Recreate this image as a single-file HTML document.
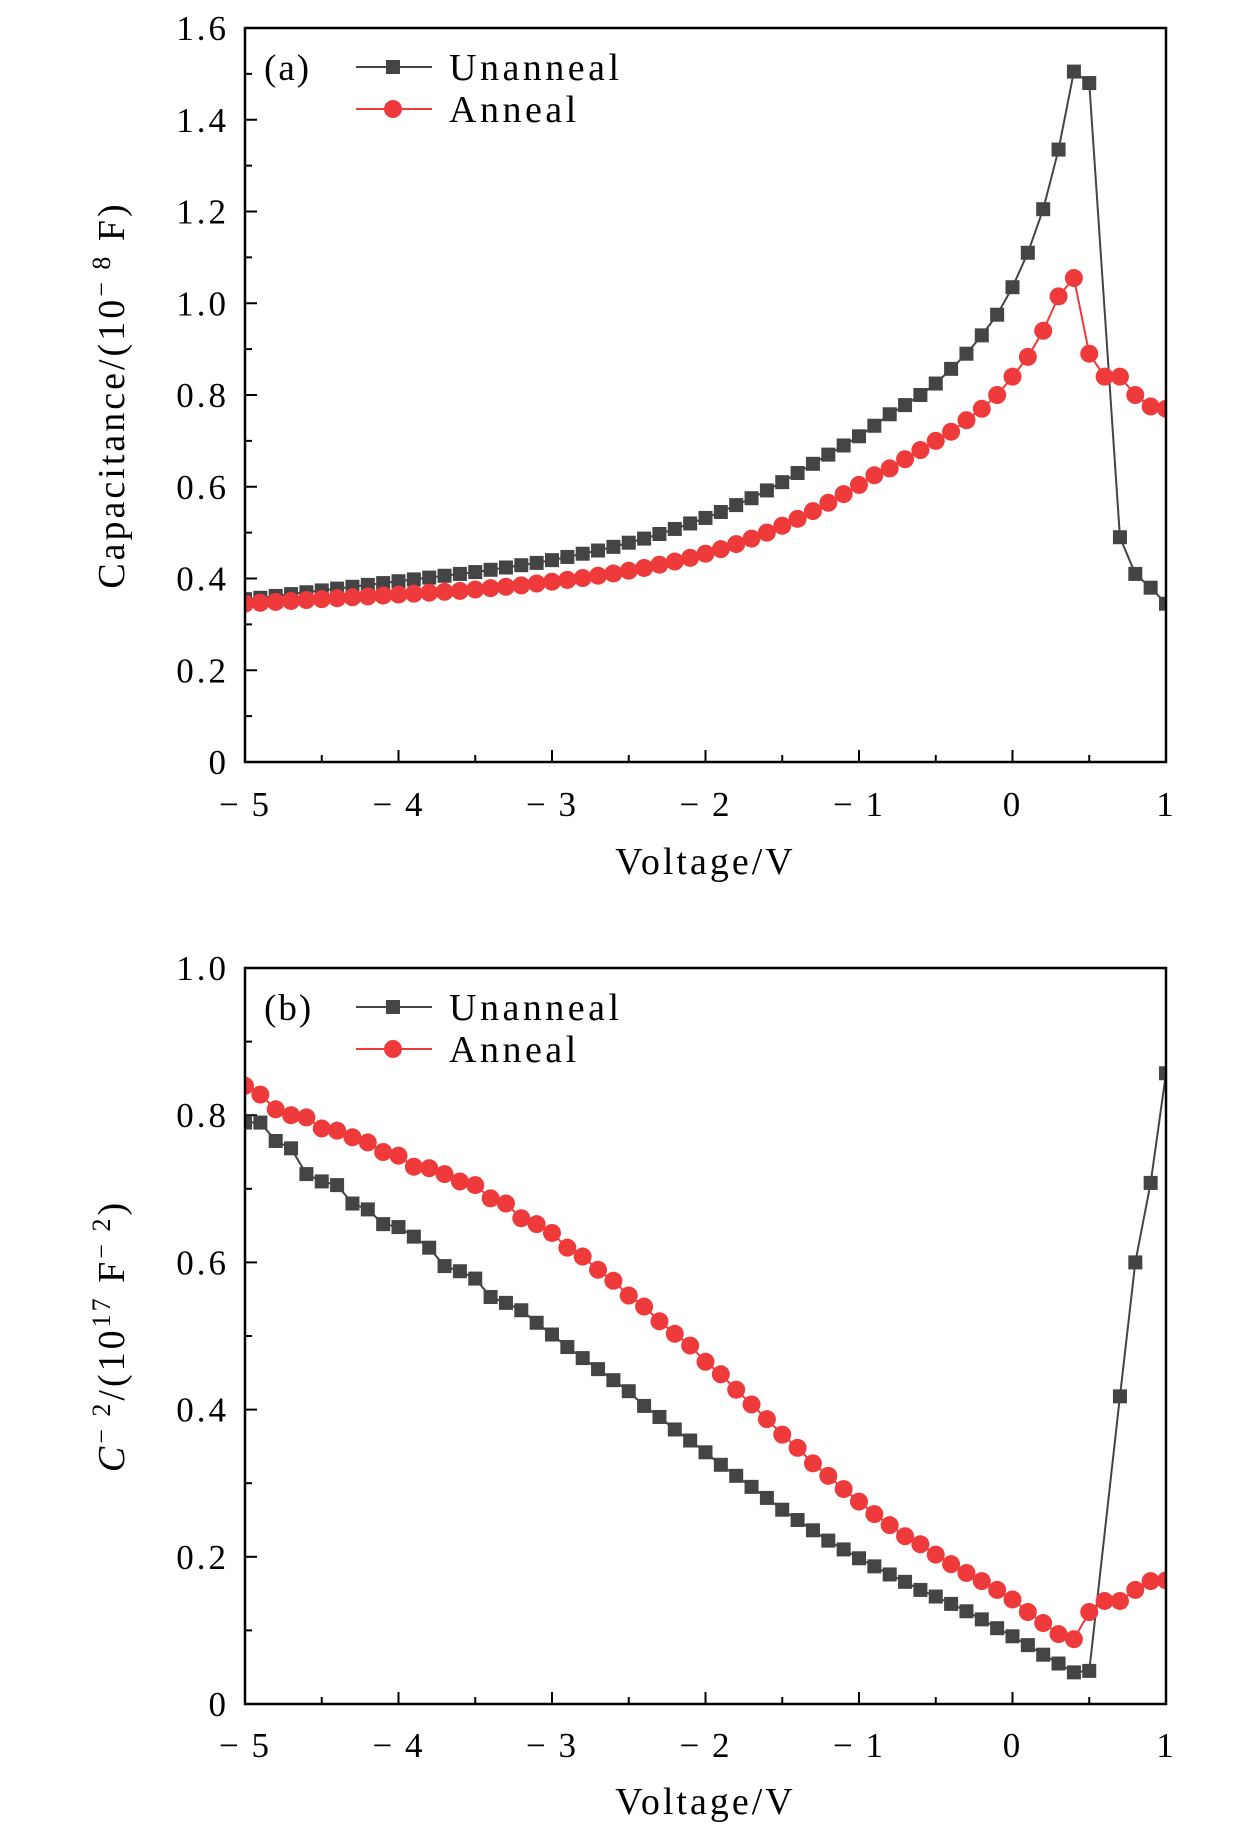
<!DOCTYPE html>
<html><head><meta charset="utf-8"><style>
html,body{margin:0;padding:0;background:#fff;}
svg{display:block;font-family:"Liberation Serif",serif;}
</style></head><body>
<svg id="fig" width="1260" height="1835" viewBox="0 0 1260 1835">
<defs>
<clipPath id="clipA"><rect x="245" y="28" width="921" height="734"/></clipPath>
<clipPath id="clipB"><rect x="245" y="968" width="921" height="736"/></clipPath>
</defs>
</svg>
<script>
const voltA_un=[-5,-4.9,-4.8,-4.7,-4.6,-4.5,-4.4,-4.3,-4.2,-4.1,-4,-3.9,-3.8,-3.7,-3.6,-3.5,-3.4,-3.3,-3.2,-3.1,-3,-2.9,-2.8,-2.7,-2.6,-2.5,-2.4,-2.3,-2.2,-2.1,-2,-1.9,-1.8,-1.7,-1.6,-1.5,-1.4,-1.3,-1.2,-1.1,-1,-0.9,-0.8,-0.7,-0.6,-0.5,-0.4,-0.3,-0.2,-0.1,0,0.1,0.2,0.3,0.4,0.5,0.7,0.8,0.9,1.0];
const capUnanneal=[.355,.358,.362,.366,.370,.374,.378,.382,.386,.390,.394,.398,.402,.406,.410,.414,.419,.424,.429,.434,.440,.447,.454,.461,.469,.478,.487,.497,.508,.520,.532,.545,.560,.575,.592,.610,.630,.650,.670,.690,.710,.733,.758,.778,.800,.825,.857,.890,.930,.975,1.035,1.11,1.205,1.335,1.505,1.48,.49,.41,.38,.345];
const voltA_an=[-5,-4.9,-4.8,-4.7,-4.6,-4.5,-4.4,-4.3,-4.2,-4.1,-4,-3.9,-3.8,-3.7,-3.6,-3.5,-3.4,-3.3,-3.2,-3.1,-3,-2.9,-2.8,-2.7,-2.6,-2.5,-2.4,-2.3,-2.2,-2.1,-2,-1.9,-1.8,-1.7,-1.6,-1.5,-1.4,-1.3,-1.2,-1.1,-1,-0.9,-0.8,-0.7,-0.6,-0.5,-0.4,-0.3,-0.2,-0.1,0,0.1,0.2,0.3,0.4,0.5,0.6,0.7,0.8,0.9,1.0];
const capAnneal=[.345,.347,.349,.351,.353,.355,.357,.359,.361,.363,.365,.367,.369,.371,.373,.376,.379,.382,.385,.389,.393,.397,.401,.406,.411,.417,.423,.430,.437,.445,.454,.464,.475,.487,.500,.515,.530,.547,.565,.584,.604,.625,.640,.660,.680,.700,.720,.745,.770,.800,.840,.883,.940,1.015,1.055,.89,.84,.84,.80,.775,.77];
const voltB_un=voltA_un.slice();
const invUnanneal=[.79,.79,.765,.755,.72,.71,.705,.68,.672,.652,.648,.635,.62,.595,.588,.578,.553,.545,.535,.518,.502,.485,.47,.455,.44,.425,.405,.39,.373,.358,.342,.325,.31,.295,.28,.264,.25,.236,.222,.21,.198,.187,.176,.166,.155,.146,.136,.126,.115,.103,.092,.08,.067,.055,.043,.045,.418,.60,.708,.857];
const voltB_an=voltA_an.slice();
const invAnneal=[.84,.828,.808,.80,.797,.782,.779,.77,.763,.75,.745,.73,.728,.72,.71,.705,.687,.68,.66,.652,.64,.62,.608,.59,.575,.555,.54,.52,.503,.487,.465,.448,.427,.407,.387,.366,.348,.327,.31,.292,.275,.258,.243,.228,.217,.203,.19,.178,.167,.155,.142,.125,.11,.095,.088,.125,.14,.14,.155,.167,.168];
const xTicks=[-5,-4,-3,-2,-1,0,1];
const xTickLabels=["\u2212 5","\u2212 4","\u2212 3","\u2212 2","\u2212 1","0","1"];
const yTicksA=[0,0.2,0.4,0.6,0.8,1.0,1.2,1.4,1.6];
const yTickLabelsA=["0","0.2","0.4","0.6","0.8","1.0","1.2","1.4","1.6"];
const yTicksB=[0,0.2,0.4,0.6,0.8,1.0];
const yTickLabelsB=["0","0.2","0.4","0.6","0.8","1.0"];

const NS="http://www.w3.org/2000/svg";
const svg=document.getElementById('fig');
function mk(tag,attrs,parent,text){const e=document.createElementNS(NS,tag);for(const k in attrs)e.setAttribute(k,attrs[k]);if(text!==undefined)e.textContent=text;(parent||svg).appendChild(e);return e;}

function panel(cfg){
  const L=245,R=1166,T=cfg.top,B=cfg.bottom;
  const sx=v=>L+(v+5)/6*(R-L);
  const sy=v=>B-v/cfg.ymax*(B-T);
  const g=mk('g',{});
  
  
  const tg=mk('g',{stroke:'#000','stroke-width':2},g);
  
  
  for(let v=-5;v<=1.001;v+=0.5){const x=sx(v);const major=Math.abs(v-Math.round(v))<1e-6;mk('line',{x1:x,x2:x,y1:B,y2:B-(major?12:7)},tg);}
  const step=cfg.yticks[1]-cfg.yticks[0];
  for(let v=0;v<=cfg.ymax+1e-6;v+=step/2){const y=sy(v);const major=Math.abs(v/step-Math.round(v/step))<1e-6;mk('line',{x1:L,x2:L+(major?12:7),y1:y,y2:y},tg);}
  xTicks.forEach((v,i)=>{const t=mk('text',{x:sx(v),y:cfg.xlabY,'font-size':35,'letter-spacing':2,'text-anchor':'middle'},g,xTickLabels[i]);});
  cfg.yticks.forEach((v,i)=>{const t=mk('text',{x:L-16,y:sy(v)+12,'font-size':35,'letter-spacing':3,'text-anchor':'end'},g,cfg.ylabels[i]);});
  const cg=mk('g',{'clip-path':cfg.clip},g);
  function series(xs,ys,color,shape,nm){
    const sg=mk('g',{},cg);
    
    
    mk('polyline',{points:xs.map((x,i)=>sx(x)+','+sy(ys[i])).join(' '),fill:'none',stroke:color,'stroke-width':2},sg);
    xs.forEach((x,i)=>{
      let m;
      if(shape==='sq') m=mk('rect',{x:sx(x)-7,y:sy(ys[i])-7,width:14,height:14,fill:color},sg);
      else m=mk('circle',{cx:sx(x),cy:sy(ys[i]),r:9,fill:color},sg);
      
      
    });
  }
  series(cfg.xu,cfg.yu,'#444444','sq','unanneal-series');
  series(cfg.xa,cfg.ya,'#ee3a3a','ci','anneal-series');
  const fr=mk('rect',{x:L,y:T,width:R-L,height:B-T,fill:'none',stroke:'#000','stroke-width':2.5},g);
  
  
  const lg=mk('g',{},g);
  
  
  const pl=mk('text',{x:264,y:T+52,'font-size':37,'letter-spacing':2},lg,cfg.tag);
  
  
  const r1=T+39,r2=T+81;
  mk('line',{x1:356,x2:432,y1:r1,y2:r1,stroke:'#444','stroke-width':2},lg);
  mk('rect',{x:386,y:r1-7,width:14,height:14,fill:'#444'},lg);
  const e1=mk('text',{x:449,y:r1+13,'font-size':38,'letter-spacing':3.5},lg,'Unanneal');
  
  
  mk('line',{x1:356,x2:432,y1:r2,y2:r2,stroke:'#ee3a3a','stroke-width':2},lg);
  mk('circle',{cx:393,cy:r2,r:9,fill:'#ee3a3a'},lg);
  const e2=mk('text',{x:449,y:r2+13,'font-size':38,'letter-spacing':3.5},lg,'Anneal');
  
  
  const xt=mk('text',{x:(L+R)/2,y:cfg.xtitleY,'font-size':38,'letter-spacing':3,'text-anchor':'middle'},g,'Voltage/V');
  
  
  const yt=mk('text',{x:0,y:0,'font-size':38,'letter-spacing':cfg.yls,'text-anchor':'middle',transform:`translate(124,${(T+B)/2}) rotate(-90)`},g);
  yt.innerHTML=cfg.ytitle;
  
  
}
panel({name:'panel-a',top:28,bottom:762,ymax:1.6,yticks:yTicksA,ylabels:yTickLabelsA,clip:'url(#clipA)',xlabY:816,xtitleY:874,tag:'(a)',yls:3,
  xu:voltA_un,yu:capUnanneal,xa:voltA_an,ya:capAnneal,
  ytitle:'Capacitance/(10<tspan dy="-14" font-size="26">\u2212 8</tspan><tspan dy="14"> F)</tspan>'});
panel({name:'panel-b',top:968,bottom:1704,ymax:1.0,yticks:yTicksB,ylabels:yTickLabelsB,clip:'url(#clipB)',xlabY:1757,xtitleY:1814,tag:'(b)',yls:3,
  xu:voltB_un,yu:invUnanneal,xa:voltB_an,ya:invAnneal,
  ytitle:'<tspan font-style="italic">C</tspan><tspan dy="-14" font-size="26">\u2212 2</tspan><tspan dy="14">/(10</tspan><tspan dy="-14" font-size="26">17</tspan><tspan dy="14"> F</tspan><tspan dy="-14" font-size="26">\u2212 2</tspan><tspan dy="14">)</tspan>'});
</script>
</body></html>
